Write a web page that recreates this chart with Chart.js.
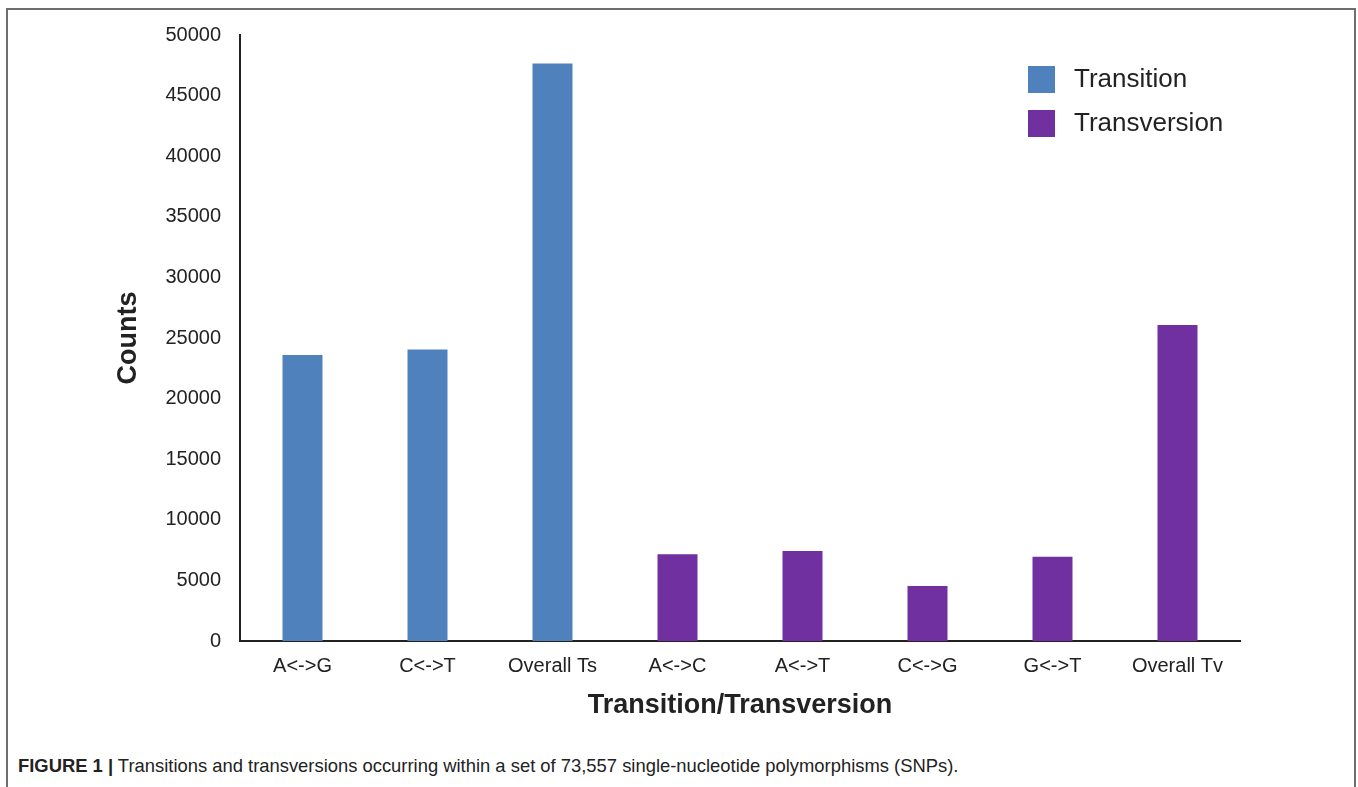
<!DOCTYPE html>
<html>
<head>
<meta charset="utf-8">
<script src="https://cdn.jsdelivr.net/npm/chart.js@4.4.1/dist/chart.umd.min.js"></script>
<style>
    body { margin: 0; background: #fff; width: 1358px; height: 787px; overflow: hidden; position: relative; font-family: "Liberation Sans", Arial, sans-serif; }
    #frame { position: absolute; left: 6px; top: 8px; width: 1346px; height: 800px; border: 2px solid #6e6e6e; border-bottom: none; }
    #chart_box { position: absolute; left: 0; top: 0; width: 1358px; height: 730px; }
    #caption { position: absolute; left: 18px; top: 755px; font-size: 18.4px; color: #222; white-space: nowrap; }
    #caption b { font-weight: bold; }
</style>
</head>
<body>
<div id="frame"></div>
<div id="chart_box"><canvas id="snp_chart" width="1358" height="730"></canvas></div>
<div id="caption"><b>FIGURE 1 |</b> Transitions and transversions occurring within a set of 73,557 single-nucleotide polymorphisms (SNPs).</div>

<script>
const categories = ["A<->G", "C<->T", "Overall Ts", "A<->C", "A<->T", "C<->G", "G<->T", "Overall Tv"];
const transition_counts = [23600, 24050, 47650, null, null, null, null, null];
const transversion_counts = [null, null, null, 7150, 7430, 4540, 6950, 26070];

const colors = {
                    "transition": "#4f81bd",
                    "transversion": "#7030a0"
               }

// Legend drawn at the top right, inside the plot
const squareLegend = {
    id: 'squareLegend',
    afterDraw(chart) {
        const ctx = chart.ctx;
        ctx.save();
        ctx.font = '26px "Liberation Sans", Arial, sans-serif';
        ctx.textBaseline = 'alphabetic';
        chart.data.datasets.forEach((ds, i) => {
            const y = 66 + i * 44;
            ctx.fillStyle = ds.backgroundColor;
            ctx.fillRect(1028, y, 27, 27);
            ctx.fillStyle = '#222';
            ctx.fillText(ds.label, 1074, y + 21);
        });
        ctx.restore();
    }
};

new Chart('snp_chart', {
    type: 'bar',
    data: {
        labels: categories,
        datasets: [
            { label: 'Transition', data: transition_counts, backgroundColor: colors.transition, grouped: false },
            { label: 'Transversion', data: transversion_counts, backgroundColor: colors.transversion, grouped: false }
        ]
    },
    options: {
        responsive: false,
        animation: false,
        categoryPercentage: 1.0,
        barPercentage: 0.32,
        layout: { padding: { top: 35, right: 118, left: 0, bottom: 0 } },
        plugins: {
            legend: { display: false },
            tooltip: { enabled: false }
        },
        scales: {
            x: {
                grid: { display: false, drawTicks: false },
                border: { display: true, color: '#222', width: 2 },
                ticks: { color: '#222', padding: 13, maxRotation: 0, font: { size: 20, family: '"Liberation Sans", Arial, sans-serif' } },
                title: { display: true, text: 'Transition/Transversion', color: '#222', padding: { top: 0, bottom: 8 },
                         font: { size: 27, weight: 'bold', family: '"Liberation Sans", Arial, sans-serif' } },
                afterFit: (scale) => { scale.height = 89; }
            },
            y: {
                min: 0,
                max: 50000,
                grid: { display: false, drawTicks: false },
                border: { display: true, color: '#222', width: 2 },
                ticks: { stepSize: 5000, color: '#222', padding: 19, callback: (v) => String(v),
                         font: { size: 20, family: '"Liberation Sans", Arial, sans-serif' } },
                title: { display: true, text: 'Counts', color: '#222', padding: { top: 112, bottom: 0 },
                         font: { size: 27, weight: 'bold', family: '"Liberation Sans", Arial, sans-serif' } },
                afterFit: (scale) => { scale.width = 240; }
            }
        }
    },
    plugins: [squareLegend]
});
</script>
</body>
</html>
